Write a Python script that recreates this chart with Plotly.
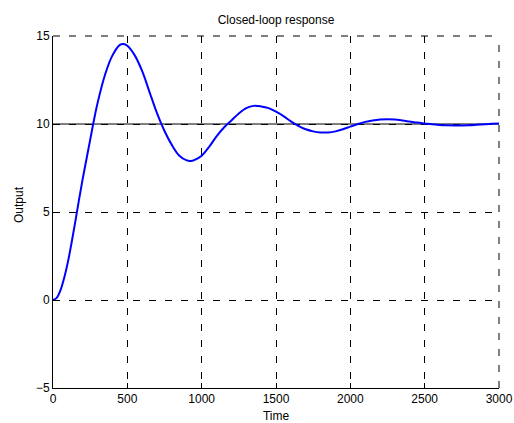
import plotly.graph_objects as go

time = [0, 25, 50, 75, 100, 125, 150, 175, 200, 225, 250, 275, 300, 350, 400, 450, 475, 500,
        550, 600, 650, 700, 750, 800, 850, 900, 925, 950, 1000, 1050, 1100, 1150, 1200, 1250,
        1300, 1350, 1400, 1450, 1500, 1550, 1600, 1650, 1700, 1750, 1800, 1850, 1900, 1950,
        2000, 2050, 2100, 2150, 2200, 2250, 2300, 2350, 2400, 2450, 2500, 2550, 2600, 2650,
        2700, 2750, 2800, 2850, 2900, 2950, 3000]
output = [0, 0.12, 0.55, 1.25, 2.15, 3.25, 4.45, 5.7, 6.9, 8.0, 9.1, 10.2, 11.2, 12.8, 13.9, 14.5, 14.55, 14.45,
          13.9, 13.0, 11.8, 10.6, 9.6, 8.8, 8.2, 7.93, 7.9, 7.95, 8.2, 8.7, 9.3, 9.8, 10.2, 10.6,
          10.9, 11.03, 11.0, 10.9, 10.7, 10.45, 10.15, 9.9, 9.7, 9.58, 9.52, 9.52, 9.58, 9.7,
          9.85, 10.0, 10.12, 10.2, 10.25, 10.27, 10.25, 10.2, 10.14, 10.08, 10.03, 9.98, 9.95, 9.93,
          9.92, 9.92, 9.93, 9.96, 9.99, 10.01, 10.03]
setpoint_t = [0, 3000]
setpoint_v = [10, 10]

x_ticks = [0, 500, 1000, 1500, 2000, 2500, 3000]
y_ticks = [-5, 0, 5, 10, 15]

DASH = "7px,9px"

fig = go.Figure()
fig.add_trace(go.Scatter(x=setpoint_t, y=setpoint_v, mode="lines",
                         line=dict(color="black", width=1), hoverinfo="skip", cliponaxis=False))
fig.add_trace(go.Scatter(x=time, y=output, mode="lines", line_shape="spline",
                         line=dict(color="#0000FF", width=2)))

font = dict(family="Arial, Liberation Sans, Helvetica, sans-serif", size=12, color="black")
axis_common = dict(showline=True, linecolor="black", linewidth=1, mirror=False,
                   ticks="inside", ticklen=5, tickcolor="black",
                   showgrid=True, gridcolor="black", gridwidth=1, griddash=DASH,
                   zeroline=False, tickfont=font, automargin=False)

# dashed grid lines at the top and right edges of the plot box
fig.add_shape(type="line", xref="paper", yref="paper", x0=0, x1=1, y0=1, y1=1,
              line=dict(color="black", width=1, dash=DASH))
fig.add_shape(type="line", xref="paper", yref="paper", x0=1, x1=1, y0=0, y1=1,
              line=dict(color="black", width=1, dash=DASH))

fig.add_annotation(text="Output", textangle=-90, xref="paper", yref="paper",
                   x=-0.076, y=0.52, xanchor="center", yanchor="middle", showarrow=False,
                   font=font)

fig.update_layout(
    width=514, height=423,
    margin=dict(l=53, r=15, t=36, b=35, autoexpand=False),
    paper_bgcolor="white", plot_bgcolor="white",
    showlegend=False,
    font=font,
    title=dict(text="Closed-loop response", x=0.537, xanchor="center", xref="container",
               yref="container", y=0.962, yanchor="top", automargin=False,
               font=dict(family=font["family"], size=12, color="black")),
    xaxis=dict(range=[0, 3000], tickvals=x_ticks, title=dict(text="Time", font=font),
               **axis_common),
    yaxis=dict(range=[-5, 15], tickvals=y_ticks, **axis_common),
)

fig.write_html("out.html", config={"displayModeBar": False},
               post_script="document.body.style.margin='0';document.body.style.padding='0';")
